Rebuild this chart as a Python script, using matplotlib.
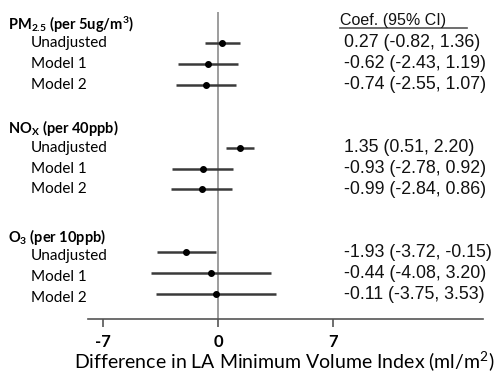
import matplotlib
matplotlib.use("Agg")
import matplotlib.pyplot as plt

plt.rcParams["mathtext.default"] = "regular"

# ----------------------------
# Data
# ----------------------------
groups = ["PM$_{2.5}$ (per 5ug/m$^3$)", "NO$_X$ (per 40ppb)", "O$_3$ (per 10ppb)"]
models = ["Unadjusted", "Model 1", "Model 2"]

coef = [0.27, -0.62, -0.74, 1.35, -0.93, -0.99, -1.93, -0.44, -0.11]
lower = [-0.82, -2.43, -2.55, 0.51, -2.78, -2.84, -3.72, -4.08, -3.75]
upper = [1.36, 1.19, 1.07, 2.20, 0.92, 0.86, -0.15, 3.20, 3.53]

xticks = [-7, 0, 7]
xlabel = "Difference in LA Minimum Volume Index (ml/m$^2$)"

label_font = "Lato"
num_font = "Liberation Sans"

# small vertical nudges of the left-hand labels, per group (rows)
header_nudge = [0.15, 0.07, 0.27]
label_nudge = [0.0, 0.0, 0.2]

# ----------------------------
# Figure
# ----------------------------
fig = plt.figure(figsize=(5.04, 3.73), dpi=100)
ax = fig.add_axes([88 / 504, (373 - 319) / 373, (483 - 88) / 504, (319 - 12) / 373])

ax.set_xlim(-7.9, 16.1)
ax.set_ylim(14.19, -0.48)

# row positions: header, 3 models, blank
rows = []
header_rows = []
r = 0
for g in groups:
    header_rows.append(r)
    rows.extend([r + 1, r + 2, r + 3])
    r += 5

ax.axvline(0, color="#8c8c8c", lw=1.2, zorder=1)

for y, c, lo, hi in zip(rows, coef, lower, upper):
    ax.plot([lo, hi], [y, y], color="#3a3a3a", lw=1.8, solid_capstyle="butt", zorder=2)
    ax.plot(c, y, "o", color="black", ms=4, zorder=3)

ytr = ax.get_yaxis_transform()
for gi, (hr, g) in enumerate(zip(header_rows, groups)):
    ax.text(-0.203, hr + header_nudge[gi], g, transform=ytr, ha="left", va="center",
            fontsize=10.5, fontweight="bold", family=label_font, clip_on=False)

for i, y in enumerate(rows):
    ax.text(-0.145, y + label_nudge[i // 3], models[i % 3], transform=ytr, ha="left",
            va="center", fontsize=11, family=label_font, clip_on=False)
    ax.text(7.67, y, f"{coef[i]:.2f} ({lower[i]:.2f}, {upper[i]:.2f})",
            ha="left", va="center", fontsize=12.8, family=num_font, color="#111111")

ax.text(7.4, -0.05, "Coef. (95% CI)", ha="left", va="center", fontsize=11.5,
        family=num_font, color="#111111")
ax.plot([7.4, 15.1], [0.3, 0.3], color="#555555", lw=1.2, clip_on=False)

for s in ["top", "left", "right"]:
    ax.spines[s].set_visible(False)
ax.spines["bottom"].set_color("#555555")
ax.spines["bottom"].set_linewidth(1.2)
ax.set_yticks([])
ax.set_xticks(xticks)
ax.set_xticklabels([str(t) for t in xticks], family=label_font, fontsize=12, fontweight="bold")
ax.tick_params(axis="x", length=6, width=1.2, color="#555555", pad=5)

# x label placed directly (centred under the full axis line) so it stays inside the canvas
fig.text(284 / 504, 1 - 361 / 373, xlabel, ha="center", va="center",
         family=label_font, fontsize=14)

fig.savefig("out.png", dpi=100)
